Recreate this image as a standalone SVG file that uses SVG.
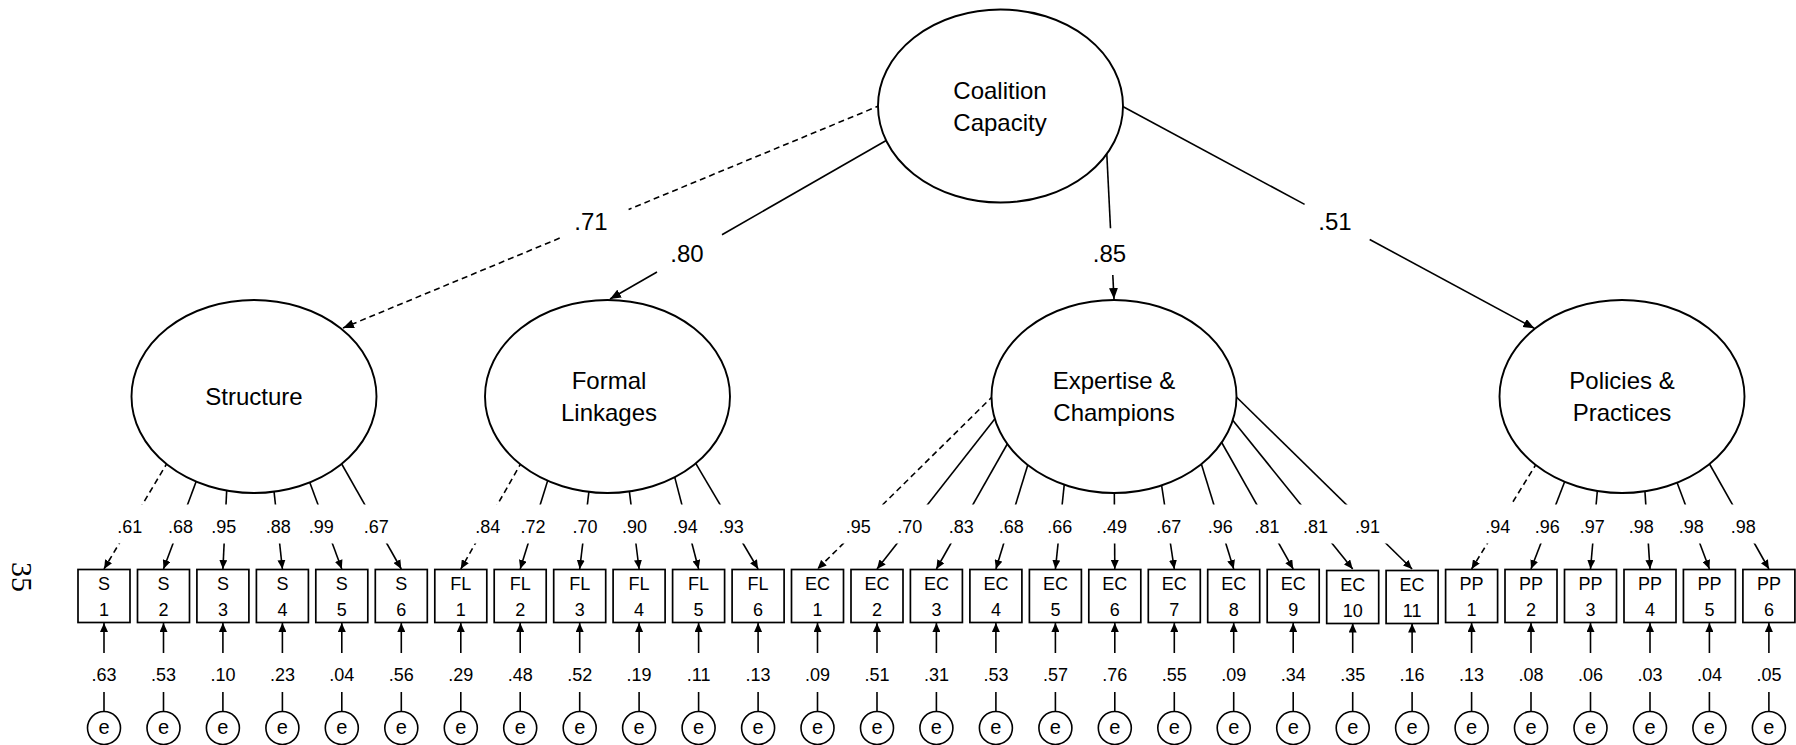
<svg xmlns="http://www.w3.org/2000/svg" width="1796" height="745" viewBox="0 0 1796 745">
<style>
  .lat { fill: #fff; stroke: #000; stroke-width: 1.9; }
  .box { fill: #fff; stroke: #000; stroke-width: 1.7; }
  .err { fill: #fff; stroke: #000; stroke-width: 1.6; }
  .ln { fill: none; stroke: #000; stroke-width: 1.6; }
  .dash { stroke-dasharray: 6 4; }
  text { font-family: "Liberation Sans", Arial, sans-serif; fill: #000; text-anchor: middle; }
  .big { font-size: 24px; }
  .ind { font-size: 18px; }
  .coef { font-size: 18px; }
  .eterm { font-size: 20px; }
  .page { font-family: "Liberation Serif", "Times New Roman", serif; font-size: 30px; }
</style>
<defs>
  <marker id="ah" viewBox="0 0 10 10" refX="10" refY="5" markerWidth="9" markerHeight="8" markerUnits="userSpaceOnUse" orient="auto" preserveAspectRatio="none">
    <path d="M0,0 L10,5 L0,10 z" fill="#000"/>
  </marker>
  <marker id="ahL" viewBox="0 0 10 10" refX="10" refY="5" markerWidth="11" markerHeight="9" markerUnits="userSpaceOnUse" orient="auto" preserveAspectRatio="none">
    <path d="M0,0 L10,5 L0,10 z" fill="#000"/>
  </marker>
  <!-- leaves a gap in the loading paths where their coefficients sit -->
  <mask id="loadGap" maskUnits="userSpaceOnUse" x="0" y="0" width="1796" height="745">
    <rect x="0" y="0" width="1796" height="745" fill="#fff"/>
    <rect x="0" y="504.5" width="1796" height="39" fill="#000"/>
  </mask>
</defs>

<!-- connectors -->
<g id="connectors">
  <!-- second-order paths -->
  <path class="ln dash" d="M881,105 L628.6,209.5"/>
  <path class="ln dash" d="M559.7,238.1 L343,328" marker-end="url(#ahL)"/>
  <path class="ln" d="M887.5,139.7 L722,234.7"/>
  <path class="ln" d="M657,272 L610,299" marker-end="url(#ahL)"/>
  <path class="ln" d="M1106.8,154 L1110.5,228.3"/>
  <path class="ln" d="M1112.8,275 L1114,299" marker-end="url(#ahL)"/>
  <path class="ln" d="M1120,105 L1304.6,204.4"/>
  <path class="ln" d="M1369.7,239.5 L1534.3,328.3" marker-end="url(#ahL)"/>

  <!-- first-order loadings -->
  <g mask="url(#loadGap)">
    <path class="ln dash" d="M168,461.6 L104,569" marker-end="url(#ah)"/>
    <path class="ln" d="M197.4,478.2 L163.5,569" marker-end="url(#ah)"/>
    <path class="ln" d="M226.9,486 L222.9,569" marker-end="url(#ah)"/>
    <path class="ln" d="M273.6,487.5 L282.4,569" marker-end="url(#ah)"/>
    <path class="ln" d="M308.6,479.2 L341.8,569" marker-end="url(#ah)"/>
    <path class="ln" d="M340.3,461.5 L401.3,569" marker-end="url(#ah)"/>

    <path class="ln dash" d="M522,461.5 L460.8,569" marker-end="url(#ah)"/>
    <path class="ln" d="M548.5,477.9 L520.2,569" marker-end="url(#ah)"/>
    <path class="ln" d="M589.5,486.7 L579.7,569" marker-end="url(#ah)"/>
    <path class="ln" d="M628.8,486.7 L639.1,569" marker-end="url(#ah)"/>
    <path class="ln" d="M674,474.4 L698.6,569" marker-end="url(#ah)"/>
    <path class="ln" d="M694.7,461.6 L758.1,569" marker-end="url(#ah)"/>

    <path class="ln dash" d="M993.5,395.5 L817.5,569" marker-end="url(#ah)"/>
    <path class="ln" d="M996.5,416.8 L877,569" marker-end="url(#ah)"/>
    <path class="ln" d="M1008.7,441.5 L936.4,569" marker-end="url(#ah)"/>
    <path class="ln" d="M1028.9,461.2 L995.9,569" marker-end="url(#ah)"/>
    <path class="ln" d="M1064.7,480.3 L1055.4,569" marker-end="url(#ah)"/>
    <path class="ln" d="M1114.3,489 L1114.8,569" marker-end="url(#ah)"/>
    <path class="ln" d="M1161.1,482 L1174.3,569" marker-end="url(#ah)"/>
    <path class="ln" d="M1200.5,461.2 L1233.7,569" marker-end="url(#ah)"/>
    <path class="ln" d="M1220,439.5 L1293.2,569" marker-end="url(#ah)"/>
    <path class="ln" d="M1230.1,416.9 L1352.7,569" marker-end="url(#ah)"/>
    <path class="ln" d="M1233.6,394.2 L1412.1,569" marker-end="url(#ah)"/>

    <path class="ln dash" d="M1537.1,462.6 L1471.6,569" marker-end="url(#ah)"/>
    <path class="ln" d="M1565.7,479 L1531,569" marker-end="url(#ah)"/>
    <path class="ln" d="M1597.6,487.7 L1590.5,569" marker-end="url(#ah)"/>
    <path class="ln" d="M1644.7,487.7 L1650,569" marker-end="url(#ah)"/>
    <path class="ln" d="M1675.9,479.5 L1709.4,569" marker-end="url(#ah)"/>
    <path class="ln" d="M1708.7,462.5 L1768.9,569" marker-end="url(#ah)"/>
  </g>

  <!-- error terms to indicators -->
  <g>
    <path class="ln" d="M104,711.5 V692 M163.5,711.5 V692 M222.9,711.5 V692 M282.4,711.5 V692 M341.8,711.5 V692 M401.3,711.5 V692 M460.8,711.5 V692 M520.2,711.5 V692 M579.7,711.5 V692 M639.1,711.5 V692 M698.6,711.5 V692 M758.1,711.5 V692 M817.5,711.5 V692 M877,711.5 V692 M936.4,711.5 V692 M995.9,711.5 V692 M1055.4,711.5 V692 M1114.8,711.5 V692 M1174.3,711.5 V692 M1233.7,711.5 V692 M1293.2,711.5 V692 M1352.7,711.5 V692 M1412.1,711.5 V692 M1471.6,711.5 V692 M1531,711.5 V692 M1590.5,711.5 V692 M1650,711.5 V692 M1709.4,711.5 V692 M1768.9,711.5 V692"/>
    <path class="ln" d="M104,653 V623" marker-end="url(#ah)"/>
    <path class="ln" d="M163.5,653 V623" marker-end="url(#ah)"/>
    <path class="ln" d="M222.9,653 V623" marker-end="url(#ah)"/>
    <path class="ln" d="M282.4,653 V623" marker-end="url(#ah)"/>
    <path class="ln" d="M341.8,653 V623" marker-end="url(#ah)"/>
    <path class="ln" d="M401.3,653 V623" marker-end="url(#ah)"/>
    <path class="ln" d="M460.8,653 V623" marker-end="url(#ah)"/>
    <path class="ln" d="M520.2,653 V623" marker-end="url(#ah)"/>
    <path class="ln" d="M579.7,653 V623" marker-end="url(#ah)"/>
    <path class="ln" d="M639.1,653 V623" marker-end="url(#ah)"/>
    <path class="ln" d="M698.6,653 V623" marker-end="url(#ah)"/>
    <path class="ln" d="M758.1,653 V623" marker-end="url(#ah)"/>
    <path class="ln" d="M817.5,653 V623" marker-end="url(#ah)"/>
    <path class="ln" d="M877,653 V623" marker-end="url(#ah)"/>
    <path class="ln" d="M936.4,653 V623" marker-end="url(#ah)"/>
    <path class="ln" d="M995.9,653 V623" marker-end="url(#ah)"/>
    <path class="ln" d="M1055.4,653 V623" marker-end="url(#ah)"/>
    <path class="ln" d="M1114.8,653 V623" marker-end="url(#ah)"/>
    <path class="ln" d="M1174.3,653 V623" marker-end="url(#ah)"/>
    <path class="ln" d="M1233.7,653 V623" marker-end="url(#ah)"/>
    <path class="ln" d="M1293.2,653 V623" marker-end="url(#ah)"/>
    <path class="ln" d="M1352.7,653 V623.5" marker-end="url(#ah)"/>
    <path class="ln" d="M1412.1,653 V623.5" marker-end="url(#ah)"/>
    <path class="ln" d="M1471.6,653 V623" marker-end="url(#ah)"/>
    <path class="ln" d="M1531,653 V623" marker-end="url(#ah)"/>
    <path class="ln" d="M1590.5,653 V623" marker-end="url(#ah)"/>
    <path class="ln" d="M1650,653 V623" marker-end="url(#ah)"/>
    <path class="ln" d="M1709.4,653 V623" marker-end="url(#ah)"/>
    <path class="ln" d="M1768.9,653 V623" marker-end="url(#ah)"/>
  </g>

  <!-- path coefficients -->
  <g>
    <text class="big" x="591" y="230">.71</text>
    <text class="big" x="687" y="262">.80</text>
    <text class="big" x="1109.5" y="262">.85</text>
    <text class="big" x="1335" y="230">.51</text>
  </g>
  <g>
    <text class="coef" x="129.7" y="533">.61</text>
    <text class="coef" x="180.5" y="533">.68</text>
    <text class="coef" x="223.8" y="533">.95</text>
    <text class="coef" x="278.3" y="533">.88</text>
    <text class="coef" x="321.3" y="533">.99</text>
    <text class="coef" x="376.3" y="533">.67</text>
    <text class="coef" x="487.7" y="533">.84</text>
    <text class="coef" x="533" y="533">.72</text>
    <text class="coef" x="585" y="533">.70</text>
    <text class="coef" x="634.5" y="533">.90</text>
    <text class="coef" x="685.3" y="533">.94</text>
    <text class="coef" x="731.2" y="533">.93</text>
    <text class="coef" x="858.3" y="533">.95</text>
    <text class="coef" x="909.7" y="533">.70</text>
    <text class="coef" x="961.2" y="533">.83</text>
    <text class="coef" x="1011.2" y="533">.68</text>
    <text class="coef" x="1059.7" y="533">.66</text>
    <text class="coef" x="1114.5" y="533">.49</text>
    <text class="coef" x="1168.7" y="533">.67</text>
    <text class="coef" x="1220.3" y="533">.96</text>
    <text class="coef" x="1267" y="533">.81</text>
    <text class="coef" x="1315.5" y="533">.81</text>
    <text class="coef" x="1367.5" y="533">.91</text>
    <text class="coef" x="1497.8" y="533">.94</text>
    <text class="coef" x="1547.2" y="533">.96</text>
    <text class="coef" x="1592.2" y="533">.97</text>
    <text class="coef" x="1641.3" y="533">.98</text>
    <text class="coef" x="1691.3" y="533">.98</text>
    <text class="coef" x="1743.3" y="533">.98</text>
  </g>
  <g>
    <text class="coef" x="104" y="681">.63</text>
    <text class="coef" x="163.5" y="681">.53</text>
    <text class="coef" x="222.9" y="681">.10</text>
    <text class="coef" x="282.4" y="681">.23</text>
    <text class="coef" x="341.8" y="681">.04</text>
    <text class="coef" x="401.3" y="681">.56</text>
    <text class="coef" x="460.8" y="681">.29</text>
    <text class="coef" x="520.2" y="681">.48</text>
    <text class="coef" x="579.7" y="681">.52</text>
    <text class="coef" x="639.1" y="681">.19</text>
    <text class="coef" x="698.6" y="681">.11</text>
    <text class="coef" x="758.1" y="681">.13</text>
    <text class="coef" x="817.5" y="681">.09</text>
    <text class="coef" x="877" y="681">.51</text>
    <text class="coef" x="936.4" y="681">.31</text>
    <text class="coef" x="995.9" y="681">.53</text>
    <text class="coef" x="1055.4" y="681">.57</text>
    <text class="coef" x="1114.8" y="681">.76</text>
    <text class="coef" x="1174.3" y="681">.55</text>
    <text class="coef" x="1233.7" y="681">.09</text>
    <text class="coef" x="1293.2" y="681">.34</text>
    <text class="coef" x="1352.7" y="681">.35</text>
    <text class="coef" x="1412.1" y="681">.16</text>
    <text class="coef" x="1471.6" y="681">.13</text>
    <text class="coef" x="1531" y="681">.08</text>
    <text class="coef" x="1590.5" y="681">.06</text>
    <text class="coef" x="1650" y="681">.03</text>
    <text class="coef" x="1709.4" y="681">.04</text>
    <text class="coef" x="1768.9" y="681">.05</text>
  </g>
</g>

<!-- latent factors -->
<g id="coalition-capacity">
  <ellipse class="lat" cx="1000.5" cy="106" rx="122.5" ry="96.5"/>
  <text class="big" x="1000" y="99">Coalition</text>
  <text class="big" x="1000" y="131">Capacity</text>
</g>
<g id="structure">
  <ellipse class="lat" cx="254" cy="396.5" rx="122.5" ry="96.5"/>
  <text class="big" x="254" y="405">Structure</text>
</g>
<g id="formal-linkages">
  <ellipse class="lat" cx="607.5" cy="396.5" rx="122.5" ry="96.5"/>
  <text class="big" x="609" y="389">Formal</text>
  <text class="big" x="609" y="421">Linkages</text>
</g>
<g id="expertise-champions">
  <ellipse class="lat" cx="1114" cy="396.5" rx="122.5" ry="96.5"/>
  <text class="big" x="1114" y="389">Expertise &amp;</text>
  <text class="big" x="1114" y="421">Champions</text>
</g>
<g id="policies-practices">
  <ellipse class="lat" cx="1622" cy="396.5" rx="122.5" ry="96.5"/>
  <text class="big" x="1622" y="389">Policies &amp;</text>
  <text class="big" x="1622" y="421">Practices</text>
</g>

<!-- observed indicators -->
<g id="S1"><rect class="box" x="78" y="569.5" width="52" height="53"/><text class="ind" x="104" y="590">S</text><text class="ind" x="104" y="616">1</text></g>
<g id="S2"><rect class="box" x="137.5" y="569.5" width="52" height="53"/><text class="ind" x="163.5" y="590">S</text><text class="ind" x="163.5" y="616">2</text></g>
<g id="S3"><rect class="box" x="196.9" y="569.5" width="52" height="53"/><text class="ind" x="222.9" y="590">S</text><text class="ind" x="222.9" y="616">3</text></g>
<g id="S4"><rect class="box" x="256.4" y="569.5" width="52" height="53"/><text class="ind" x="282.4" y="590">S</text><text class="ind" x="282.4" y="616">4</text></g>
<g id="S5"><rect class="box" x="315.8" y="569.5" width="52" height="53"/><text class="ind" x="341.8" y="590">S</text><text class="ind" x="341.8" y="616">5</text></g>
<g id="S6"><rect class="box" x="375.3" y="569.5" width="52" height="53"/><text class="ind" x="401.3" y="590">S</text><text class="ind" x="401.3" y="616">6</text></g>
<g id="FL1"><rect class="box" x="434.8" y="569.5" width="52" height="53"/><text class="ind" x="460.8" y="590">FL</text><text class="ind" x="460.8" y="616">1</text></g>
<g id="FL2"><rect class="box" x="494.2" y="569.5" width="52" height="53"/><text class="ind" x="520.2" y="590">FL</text><text class="ind" x="520.2" y="616">2</text></g>
<g id="FL3"><rect class="box" x="553.7" y="569.5" width="52" height="53"/><text class="ind" x="579.7" y="590">FL</text><text class="ind" x="579.7" y="616">3</text></g>
<g id="FL4"><rect class="box" x="613.1" y="569.5" width="52" height="53"/><text class="ind" x="639.1" y="590">FL</text><text class="ind" x="639.1" y="616">4</text></g>
<g id="FL5"><rect class="box" x="672.6" y="569.5" width="52" height="53"/><text class="ind" x="698.6" y="590">FL</text><text class="ind" x="698.6" y="616">5</text></g>
<g id="FL6"><rect class="box" x="732.1" y="569.5" width="52" height="53"/><text class="ind" x="758.1" y="590">FL</text><text class="ind" x="758.1" y="616">6</text></g>
<g id="EC1"><rect class="box" x="791.5" y="569.5" width="52" height="53"/><text class="ind" x="817.5" y="590">EC</text><text class="ind" x="817.5" y="616">1</text></g>
<g id="EC2"><rect class="box" x="851" y="569.5" width="52" height="53"/><text class="ind" x="877" y="590">EC</text><text class="ind" x="877" y="616">2</text></g>
<g id="EC3"><rect class="box" x="910.4" y="569.5" width="52" height="53"/><text class="ind" x="936.4" y="590">EC</text><text class="ind" x="936.4" y="616">3</text></g>
<g id="EC4"><rect class="box" x="969.9" y="569.5" width="52" height="53"/><text class="ind" x="995.9" y="590">EC</text><text class="ind" x="995.9" y="616">4</text></g>
<g id="EC5"><rect class="box" x="1029.4" y="569.5" width="52" height="53"/><text class="ind" x="1055.4" y="590">EC</text><text class="ind" x="1055.4" y="616">5</text></g>
<g id="EC6"><rect class="box" x="1088.8" y="569.5" width="52" height="53"/><text class="ind" x="1114.8" y="590">EC</text><text class="ind" x="1114.8" y="616">6</text></g>
<g id="EC7"><rect class="box" x="1148.3" y="569.5" width="52" height="53"/><text class="ind" x="1174.3" y="590">EC</text><text class="ind" x="1174.3" y="616">7</text></g>
<g id="EC8"><rect class="box" x="1207.7" y="569.5" width="52" height="53"/><text class="ind" x="1233.7" y="590">EC</text><text class="ind" x="1233.7" y="616">8</text></g>
<g id="EC9"><rect class="box" x="1267.2" y="569.5" width="52" height="53"/><text class="ind" x="1293.2" y="590">EC</text><text class="ind" x="1293.2" y="616">9</text></g>
<g id="EC10"><rect class="box" x="1326.7" y="570.5" width="52" height="53"/><text class="ind" x="1352.7" y="591">EC</text><text class="ind" x="1352.7" y="617">10</text></g>
<g id="EC11"><rect class="box" x="1386.1" y="570.5" width="52" height="53"/><text class="ind" x="1412.1" y="591">EC</text><text class="ind" x="1412.1" y="617">11</text></g>
<g id="PP1"><rect class="box" x="1445.6" y="569.5" width="52" height="53"/><text class="ind" x="1471.6" y="590">PP</text><text class="ind" x="1471.6" y="616">1</text></g>
<g id="PP2"><rect class="box" x="1505" y="569.5" width="52" height="53"/><text class="ind" x="1531" y="590">PP</text><text class="ind" x="1531" y="616">2</text></g>
<g id="PP3"><rect class="box" x="1564.5" y="569.5" width="52" height="53"/><text class="ind" x="1590.5" y="590">PP</text><text class="ind" x="1590.5" y="616">3</text></g>
<g id="PP4"><rect class="box" x="1624" y="569.5" width="52" height="53"/><text class="ind" x="1650" y="590">PP</text><text class="ind" x="1650" y="616">4</text></g>
<g id="PP5"><rect class="box" x="1683.4" y="569.5" width="52" height="53"/><text class="ind" x="1709.4" y="590">PP</text><text class="ind" x="1709.4" y="616">5</text></g>
<g id="PP6"><rect class="box" x="1742.9" y="569.5" width="52" height="53"/><text class="ind" x="1768.9" y="590">PP</text><text class="ind" x="1768.9" y="616">6</text></g>

<!-- error terms -->
<g id="errors">
  <g id="e-S1"><circle class="err" cx="104" cy="728" r="16.5"/><text class="eterm" x="104" y="734">e</text></g>
  <g id="e-S2"><circle class="err" cx="163.5" cy="728" r="16.5"/><text class="eterm" x="163.5" y="734">e</text></g>
  <g id="e-S3"><circle class="err" cx="222.9" cy="728" r="16.5"/><text class="eterm" x="222.9" y="734">e</text></g>
  <g id="e-S4"><circle class="err" cx="282.4" cy="728" r="16.5"/><text class="eterm" x="282.4" y="734">e</text></g>
  <g id="e-S5"><circle class="err" cx="341.8" cy="728" r="16.5"/><text class="eterm" x="341.8" y="734">e</text></g>
  <g id="e-S6"><circle class="err" cx="401.3" cy="728" r="16.5"/><text class="eterm" x="401.3" y="734">e</text></g>
  <g id="e-FL1"><circle class="err" cx="460.8" cy="728" r="16.5"/><text class="eterm" x="460.8" y="734">e</text></g>
  <g id="e-FL2"><circle class="err" cx="520.2" cy="728" r="16.5"/><text class="eterm" x="520.2" y="734">e</text></g>
  <g id="e-FL3"><circle class="err" cx="579.7" cy="728" r="16.5"/><text class="eterm" x="579.7" y="734">e</text></g>
  <g id="e-FL4"><circle class="err" cx="639.1" cy="728" r="16.5"/><text class="eterm" x="639.1" y="734">e</text></g>
  <g id="e-FL5"><circle class="err" cx="698.6" cy="728" r="16.5"/><text class="eterm" x="698.6" y="734">e</text></g>
  <g id="e-FL6"><circle class="err" cx="758.1" cy="728" r="16.5"/><text class="eterm" x="758.1" y="734">e</text></g>
  <g id="e-EC1"><circle class="err" cx="817.5" cy="728" r="16.5"/><text class="eterm" x="817.5" y="734">e</text></g>
  <g id="e-EC2"><circle class="err" cx="877" cy="728" r="16.5"/><text class="eterm" x="877" y="734">e</text></g>
  <g id="e-EC3"><circle class="err" cx="936.4" cy="728" r="16.5"/><text class="eterm" x="936.4" y="734">e</text></g>
  <g id="e-EC4"><circle class="err" cx="995.9" cy="728" r="16.5"/><text class="eterm" x="995.9" y="734">e</text></g>
  <g id="e-EC5"><circle class="err" cx="1055.4" cy="728" r="16.5"/><text class="eterm" x="1055.4" y="734">e</text></g>
  <g id="e-EC6"><circle class="err" cx="1114.8" cy="728" r="16.5"/><text class="eterm" x="1114.8" y="734">e</text></g>
  <g id="e-EC7"><circle class="err" cx="1174.3" cy="728" r="16.5"/><text class="eterm" x="1174.3" y="734">e</text></g>
  <g id="e-EC8"><circle class="err" cx="1233.7" cy="728" r="16.5"/><text class="eterm" x="1233.7" y="734">e</text></g>
  <g id="e-EC9"><circle class="err" cx="1293.2" cy="728" r="16.5"/><text class="eterm" x="1293.2" y="734">e</text></g>
  <g id="e-EC10"><circle class="err" cx="1352.7" cy="728" r="16.5"/><text class="eterm" x="1352.7" y="734">e</text></g>
  <g id="e-EC11"><circle class="err" cx="1412.1" cy="728" r="16.5"/><text class="eterm" x="1412.1" y="734">e</text></g>
  <g id="e-PP1"><circle class="err" cx="1471.6" cy="728" r="16.5"/><text class="eterm" x="1471.6" y="734">e</text></g>
  <g id="e-PP2"><circle class="err" cx="1531" cy="728" r="16.5"/><text class="eterm" x="1531" y="734">e</text></g>
  <g id="e-PP3"><circle class="err" cx="1590.5" cy="728" r="16.5"/><text class="eterm" x="1590.5" y="734">e</text></g>
  <g id="e-PP4"><circle class="err" cx="1650" cy="728" r="16.5"/><text class="eterm" x="1650" y="734">e</text></g>
  <g id="e-PP5"><circle class="err" cx="1709.4" cy="728" r="16.5"/><text class="eterm" x="1709.4" y="734">e</text></g>
  <g id="e-PP6"><circle class="err" cx="1768.9" cy="728" r="16.5"/><text class="eterm" x="1768.9" y="734">e</text></g>
</g>

<!-- page number, printed sideways -->
<text class="page" transform="translate(12,577) rotate(90)">35</text>
</svg>
